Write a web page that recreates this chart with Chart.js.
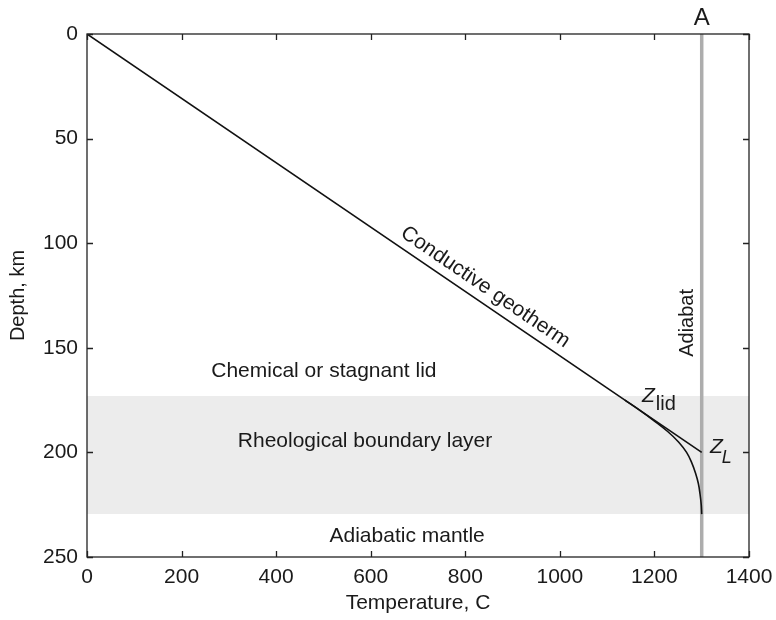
<!DOCTYPE html>
<html><head><meta charset="utf-8">
<script src="https://cdn.jsdelivr.net/npm/chart.js@4/dist/chart.umd.min.js"></script>
<style>html,body{margin:0;padding:0;background:#fff}#wrap{width:776px;height:620px}</style>
</head><body><div id="wrap"><canvas id="c" width="776" height="620"></canvas></div>
<script>
// ---- data ----
const xTicks = [0, 200, 400, 600, 800, 1000, 1200, 1400];
const yTicks = [0, 50, 100, 150, 200, 250];
const geothermT = [0, 1300];
const geothermZ = [0, 200];
const curveT = [1137.5, 1170, 1200, 1228, 1251, 1268, 1279, 1287, 1293, 1296.5, 1299, 1300];
const curveZ = [175, 180, 185, 190, 195, 200, 205, 210, 215, 220, 225, 229.5];
const adiabatT = [1300, 1300];
const adiabatZ = [0, 250];
const bandT = [0, 1400];
const bandTopZ = [173, 173];
const bandBottomZ = [229.5, 229.5];
const xTitle = 'Temperature, C';
const yTitle = 'Depth, km';

const pts = (xs, ys) => xs.map((x, i) => ({x: x, y: ys[i]}));
const FONT = '"Liberation Sans", Arial, Helvetica, sans-serif';
const INK = '#1a1a1a';

// annotations in data coordinates
const notes = [
  {text: 'Chemical or stagnant lid', T: 501, z: 164, size: 21, align: 'center'},
  {text: 'Rheological boundary layer', T: 588, z: 197.4, size: 21, align: 'center'},
  {text: 'Adiabatic mantle', T: 677, z: 242.8, size: 21, align: 'center'},
];

const framePlugin = {
  id: 'frame',
  afterDatasetsDraw(chart) {
    const {ctx, chartArea: a, scales: {x, y}} = chart;
    ctx.save();
    ctx.strokeStyle = '#222';
    ctx.lineWidth = 1.3;
    ctx.strokeRect(a.left, a.top, a.right - a.left, a.bottom - a.top);
    ctx.beginPath();
    xTicks.forEach(v => {
      const px = Math.round(x.getPixelForValue(v)) + 0.5;
      ctx.moveTo(px, a.bottom); ctx.lineTo(px, a.bottom - 6);
      ctx.moveTo(px, a.top); ctx.lineTo(px, a.top + 6);
    });
    yTicks.forEach(v => {
      const py = Math.round(y.getPixelForValue(v)) + 0.5;
      ctx.moveTo(a.left, py); ctx.lineTo(a.left + 6, py);
      ctx.moveTo(a.right, py); ctx.lineTo(a.right - 6, py);
    });
    ctx.stroke();

    ctx.fillStyle = INK;
    ctx.textBaseline = 'alphabetic';
    notes.forEach(n => {
      ctx.font = n.size + 'px ' + FONT;
      ctx.textAlign = n.align;
      ctx.fillText(n.text, x.getPixelForValue(n.T), y.getPixelForValue(n.z));
    });

    const ang = Math.atan2(y.getPixelForValue(geothermZ[1]) - y.getPixelForValue(geothermZ[0]),
                           x.getPixelForValue(geothermT[1]) - x.getPixelForValue(geothermT[0]));
    ctx.save();
    ctx.translate(x.getPixelForValue(842), y.getPixelForValue(121));
    ctx.rotate(ang);
    ctx.font = '21px ' + FONT;
    ctx.textAlign = 'center';
    ctx.textBaseline = 'middle';
    ctx.fillText('Conductive geotherm', 0, 0);
    ctx.restore();

    ctx.save();
    ctx.translate(x.getPixelForValue(1281.5), y.getPixelForValue(138.1));
    ctx.rotate(-Math.PI / 2);
    ctx.font = '20px ' + FONT;
    ctx.textAlign = 'center';
    ctx.textBaseline = 'alphabetic';
    ctx.fillText('Adiabat', 0, 0);
    ctx.restore();

    ctx.font = '24px ' + FONT;
    ctx.textAlign = 'center';
    ctx.textBaseline = 'alphabetic';
    ctx.fillText('A', x.getPixelForValue(1300), y.getPixelForValue(-4.3));

    ctx.textAlign = 'left';
    let zx = x.getPixelForValue(1173.6), zy = y.getPixelForValue(175.9);
    ctx.font = 'italic 21px ' + FONT;
    ctx.fillText('Z', zx, zy);
    let w = ctx.measureText('Z').width;
    ctx.font = '20px ' + FONT;
    ctx.fillText('lid', zx + w + 1, zy + 8);

    zx = x.getPixelForValue(1317.4); zy = y.getPixelForValue(200.3);
    ctx.font = 'italic 21px ' + FONT;
    ctx.fillText('Z', zx, zy);
    w = ctx.measureText('Z').width;
    ctx.font = 'italic 18px ' + FONT;
    ctx.fillText('L', zx + w - 1, zy + 10);
    ctx.restore();
  }
};

new Chart(document.getElementById('c'), {
  type: 'scatter',
  data: {
    datasets: [
      {label: 'Conductive geotherm', data: pts(geothermT, geothermZ), showLine: true,
       borderColor: '#111', borderWidth: 1.6, pointRadius: 0, fill: false, order: 1},
      {label: 'Geotherm with boundary layer', data: pts(curveT, curveZ), showLine: true,
       borderColor: '#111', borderWidth: 1.6, pointRadius: 0, tension: 0.4, fill: false, order: 2},
      {label: 'Adiabat', data: pts(adiabatT, adiabatZ), showLine: true,
       borderColor: '#adadad', borderWidth: 3.5, pointRadius: 0, fill: false, order: 3},
      {label: 'Band top', data: pts(bandT, bandTopZ), showLine: true, borderWidth: 0,
       borderColor: 'rgba(0,0,0,0)', pointRadius: 0, backgroundColor: '#ececec', fill: '+1', order: 4},
      {label: 'Band bottom', data: pts(bandT, bandBottomZ), showLine: true, borderWidth: 0,
       borderColor: 'rgba(0,0,0,0)', pointRadius: 0, fill: false, order: 5}
    ]
  },
  options: {
    responsive: false,
    devicePixelRatio: 1,
    animation: false,
    layout: {padding: {left: 0, top: 34, right: 27, bottom: 0}},
    plugins: {legend: {display: false}, tooltip: {enabled: false}},
    scales: {
      x: {
        type: 'linear', min: 0, max: 1400,
        afterBuildTicks: s => { s.ticks = xTicks.map(v => ({value: v})); },
        afterFit: s => { s.height = 63; s.paddingLeft = 0; s.paddingRight = 0; },
        grid: {display: false, drawTicks: false},
        border: {display: false},
        ticks: {padding: 8, color: INK, font: {family: FONT, size: 21}, callback: v => String(v)},
        title: {display: true, text: xTitle, color: INK, font: {family: FONT, size: 21}, padding: {top: 0, bottom: 4}}
      },
      y: {
        type: 'linear', min: 0, max: 250, reverse: true,
        afterBuildTicks: s => { s.ticks = yTicks.map(v => ({value: v})); },
        afterFit: s => { s.width = 87; s.paddingTop = 0; s.paddingBottom = 0; },
        grid: {display: false, drawTicks: false},
        border: {display: false},
        ticks: {padding: 9, color: INK, font: {family: FONT, size: 21}, callback: v => String(v)},
        title: {display: true, text: yTitle, color: INK, font: {family: FONT, size: 20}, padding: {top: 6, bottom: 0}}
      }
    }
  },
  plugins: [framePlugin]
});
</script>
</body></html>
